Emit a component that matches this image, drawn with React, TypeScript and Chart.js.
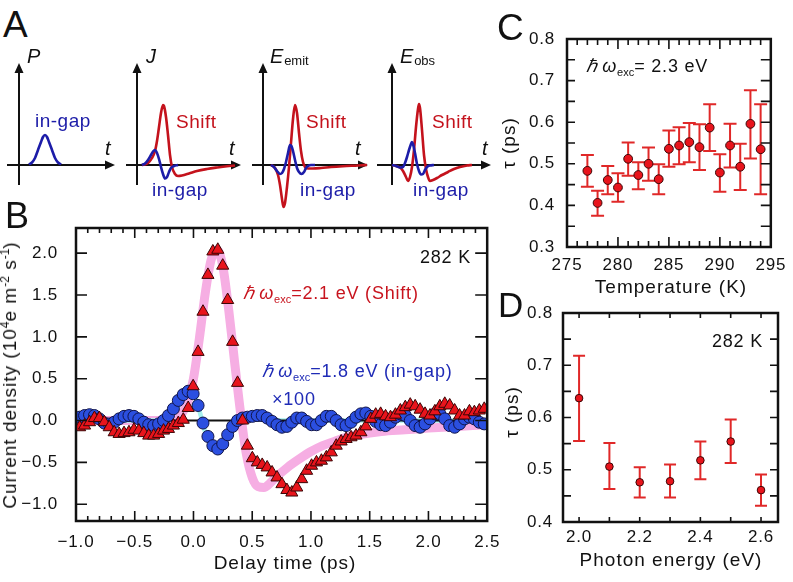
import React, { useEffect, useRef } from 'react';
import { Chart, registerables } from 'chart.js';

Chart.register(...registerables);
const FONT = "'Liberation Sans', Arial, Helvetica, sans-serif";
Chart.defaults.font.family = FONT;
Chart.defaults.color = '#111';

// ---------------- DATA ----------------
// Panel B: delay-time traces
const bTimes = [-0.969,-0.927,-0.885,-0.843,-0.801,-0.759,-0.717,-0.675,-0.633,-0.591,-0.549,-0.507,-0.465,-0.423,-0.381,-0.339,-0.297,-0.255,-0.213,-0.171,-0.129,-0.087,-0.045,-0.003,0.039,0.081,0.123,0.165,0.207,0.249,0.291,0.333,0.375,0.417,0.459,0.501,0.543,0.585,0.627,0.669,0.711,0.753,0.795,0.837,0.879,0.921,0.963,1.005,1.047,1.089,1.131,1.173,1.215,1.257,1.299,1.341,1.383,1.425,1.467,1.509,1.551,1.593,1.635,1.677,1.719,1.761,1.803,1.845,1.887,1.929,1.971,2.013,2.055,2.097,2.139,2.181,2.223,2.265,2.307,2.349,2.391,2.433,2.475];
const bShift = [-0.08,-0.06,-0.02,0.03,0.03,-0.02,-0.08,-0.14,-0.16,-0.15,-0.14,-0.11,-0.12,-0.15,-0.18,-0.18,-0.16,-0.12,-0.10,-0.06,-0.03,0.01,0.15,0.41,0.82,1.30,1.74,2.02,2.04,1.85,1.44,0.94,0.45,0.00,-0.30,-0.45,-0.50,-0.53,-0.56,-0.62,-0.68,-0.76,-0.83,-0.86,-0.80,-0.70,-0.60,-0.54,-0.50,-0.48,-0.44,-0.38,-0.30,-0.25,-0.22,-0.20,-0.18,-0.14,-0.07,0.02,0.07,0.08,0.05,0.04,0.07,0.12,0.16,0.19,0.17,0.13,0.08,0.06,0.11,0.17,0.20,0.18,0.12,0.06,0.06,0.11,0.10,0.12,0.14];
const bInGap = [0.04,0.06,0.07,0.06,0.02,-0.03,-0.04,-0.02,0.02,0.05,0.06,0.05,0.02,-0.02,-0.05,-0.06,-0.04,0.00,0.06,0.14,0.24,0.31,0.35,0.32,0.18,-0.03,-0.19,-0.30,-0.34,-0.28,-0.17,-0.07,0.00,0.03,0.04,0.05,0.06,0.06,0.03,-0.01,-0.05,-0.08,-0.07,-0.02,0.03,0.03,-0.01,-0.05,-0.05,0.00,0.05,0.05,0.00,-0.05,-0.06,-0.02,0.04,0.08,0.09,0.05,-0.01,-0.05,-0.06,-0.02,0.04,0.08,0.06,0.00,-0.06,-0.08,-0.04,0.02,0.08,0.08,0.02,-0.06,-0.08,-0.04,0.02,0.04,0.02,-0.02,-0.04];
const fitShiftT = [-1.0,-0.3,-0.2,-0.15,-0.1,-0.05,0.0,0.05,0.1,0.15,0.2,0.25,0.3,0.35,0.4,0.45,0.5,0.55,0.6,0.65,0.7,0.8,0.9,1.0,1.1,1.2,1.3,1.4,1.6,1.8,2.0,2.25,2.5];
const fitShiftV = [0,0,0,0.02,0.08,0.22,0.5,0.98,1.52,1.92,2.04,1.84,1.32,0.7,0.1,-0.4,-0.68,-0.79,-0.8,-0.75,-0.68,-0.56,-0.46,-0.37,-0.3,-0.25,-0.2,-0.17,-0.13,-0.11,-0.09,-0.07,-0.05];
const fitGapT = [-1.0,-0.3,-0.25,-0.2,-0.15,-0.1,-0.05,0.0,0.05,0.1,0.15,0.2,0.25,0.3,0.35,0.4,0.5,0.6,0.8,1.0,1.5,2.0,2.5];
const fitGapV = [0,0,0.01,0.04,0.12,0.24,0.33,0.32,0.12,-0.14,-0.3,-0.33,-0.24,-0.1,-0.01,0.02,0.02,0.01,0,0,0,0,0];
const zeroT = [-1.0, 2.5];
const zeroV = [0, 0];
const bXTicks = [-1.0,-0.5,0,0.5,1.0,1.5,2.0,2.5];
const bXLabels = ['\u22121.0','\u22120.5','0.0','0.5','1.0','1.5','2.0','2.5'];
const bXMinor = [-0.9,-0.8,-0.7,-0.6,-0.4,-0.3,-0.2,-0.1,0.1,0.2,0.3,0.4,0.6,0.7,0.8,0.9,1.1,1.2,1.3,1.4,1.6,1.7,1.8,1.9,2.1,2.2,2.3,2.4];
const bYTicks = [-1.0,-0.5,0,0.5,1.0,1.5,2.0];
const bYLabels = ['\u22121.0','\u22120.5','0.0','0.5','1.0','1.5','2.0'];

// Panel C: tau vs temperature
const cTemp = [277,278,279,280,281,282,283,284,285,286,287,288,289,290,291,292,293,294];
const cTau = [0.483,0.406,0.461,0.443,0.512,0.473,0.500,0.463,0.536,0.544,0.552,0.540,0.587,0.479,0.544,0.493,0.596,0.535];
const cLo = [0.445,0.375,0.427,0.409,0.471,0.439,0.459,0.427,0.493,0.499,0.504,0.485,0.531,0.433,0.491,0.437,0.513,0.427];
const cHi = [0.521,0.435,0.495,0.477,0.551,0.504,0.539,0.499,0.580,0.588,0.598,0.595,0.643,0.523,0.596,0.548,0.677,0.643];
const cXTicks = [275,280,285,290,295];
const cXLabels = ['275','280','285','290','295'];
const cXMinor = [276,277,278,279,281,282,283,284,286,287,288,289,291,292,293,294];
const cYTicks = [0.3,0.4,0.5,0.6,0.7,0.8];
const cYLabels = ['0.3','0.4','0.5','0.6','0.7','0.8'];
const cYMinor = [0.35,0.45,0.55,0.65,0.75];

// Panel D: tau vs photon energy
const dEnergy = [2.0,2.1,2.2,2.3,2.4,2.5,2.6];
const dTau = [0.637,0.506,0.476,0.478,0.518,0.554,0.461];
const dLo = [0.555,0.463,0.447,0.447,0.482,0.513,0.431];
const dHi = [0.718,0.551,0.505,0.510,0.554,0.596,0.491];
const dXTicks = [2.0,2.2,2.4,2.6];
const dXLabels = ['2.0','2.2','2.4','2.6'];
const dXMinor = [2.1,2.3,2.5];
const dYTicks = [0.4,0.5,0.6,0.7,0.8];
const dYLabels = ['0.4','0.5','0.6','0.7','0.8'];
const dYMinor = [0.45,0.55,0.65,0.75];

// Panel A: schematic curves (offsets in sketch units)
const aPT = [10,13,16,19,22,24,26,28,30,33,36,39,42];
const aPV = [0.5,2.5,7,15,23,28,30,28,23,15,7,2.5,0.5];
const aJShiftT = [5,9,12,15,18,20,22,24,26,27,29,31,33,35,38,41,45,52,60,70,80,90,98];
const aJShiftV = [0,1,3,7,14,24,38,52,60,59,48,30,10,-2,-9,-11,-10.5,-8.5,-6,-4,-2.5,-1.2,-0.5];
const aJGapT = [5,8,11,14,16,18,20,22,24,26,28,30,32,34,37,41];
const aJGapV = [0,1.5,5,10,13.5,15,12,6,-2,-9,-13.5,-12,-7,-3,-1,0];
const aEShiftT = [8,12,15,17,19,20.5,22,24,26,28,30,32,34,36,38,40,42,45,50,58,68,80,95,104];
const aEShiftV = [0,-3,-10,-20,-34,-42,-38,-22,-2,22,46,60,52,32,14,3,-2,-3.5,-3.5,-3,-2,-1.2,-0.5,0];
const aEGapT = [8,11,14,17,19,21,23,25,27,28.5,30,32,34,36,38.5,41,43,45,48,52];
const aEGapV = [0,-2,-6,-9,-8,-4,3,12,20,19,14,5,-3,-7,-9,-7,-3,-1,0,0];
const aOShiftT = [0,4,8,11,14,16,18,20,22,24,26,27,28,30,32,34,36,38,41,45,50,56,62,68,75,80];
const aOShiftV = [0,-1,-2.5,-6,-12,-16,-12,-2,15,38,56,61,57,35,10,-4,-12,-16,-15,-13,-10,-7,-4,-2,-0.5,0];
const aOGapT = [0,4,8,11,13,15,17,19,20,21,23,25,27,29,31,33,35,38,42];
const aOGapV = [0,-1,-2.5,-2,2,8,15,21,23,21,12,1,-6,-9.5,-9,-5,-2,-0.5,0];

// ---------------- PLUGINS ----------------
const spacingPlugin = {
  id: 'letterSpacing',
  beforeDraw(chart: any) { try { chart.ctx.letterSpacing = '0.8px'; } catch (e) {} },
};

function framePlugin(spec: any) {
  return {
    id: 'frameTicks',
    afterDraw(chart: any) {
      const { ctx, chartArea: a, scales } = chart;
      const xs = scales.x, ys = scales.y;
      ctx.save();
      ctx.strokeStyle = '#111';
      ctx.lineWidth = spec.tickW;
      ctx.beginPath();
      const xt = (vals: number[], len: number) => vals.forEach((v) => {
        const p = xs.getPixelForValue(v);
        ctx.moveTo(p, a.bottom); ctx.lineTo(p, a.bottom - len);
        ctx.moveTo(p, a.top); ctx.lineTo(p, a.top + len);
      });
      const yt = (vals: number[], len: number, lenR: number) => vals.forEach((v) => {
        const p = ys.getPixelForValue(v);
        ctx.moveTo(a.left, p); ctx.lineTo(a.left + len, p);
        ctx.moveTo(a.right, p); ctx.lineTo(a.right - lenR, p);
      });
      xt(spec.xMajor, spec.xMaj);
      xt(spec.xMinor, spec.xMin);
      yt(spec.yMajor, spec.yMaj, spec.yMajR);
      yt(spec.yMinor, spec.yMin, spec.yMinR);
      ctx.stroke();
      ctx.lineWidth = spec.frameW;
      ctx.strokeRect(a.left, a.top, a.right - a.left, a.bottom - a.top);
      ctx.restore();
    },
  };
}

function errorBarPlugin(xs: number[], lo: number[], hi: number[], cap: number) {
  return {
    id: 'errorBars',
    beforeDatasetsDraw(chart: any) {
      const { ctx } = chart;
      const sx = chart.scales.x, sy = chart.scales.y;
      ctx.save();
      ctx.strokeStyle = '#e02828';
      ctx.lineWidth = 2;
      ctx.beginPath();
      xs.forEach((x, i) => {
        const px = sx.getPixelForValue(x);
        const pl = sy.getPixelForValue(lo[i]);
        const ph = sy.getPixelForValue(hi[i]);
        ctx.moveTo(px, pl); ctx.lineTo(px, ph);
        ctx.moveTo(px - cap, pl); ctx.lineTo(px + cap, pl);
        ctx.moveTo(px - cap, ph); ctx.lineTo(px + cap, ph);
      });
      ctx.stroke();
      ctx.restore();
    },
  };
}

function arrowAxesPlugin(xmin: number, xmax: number, ybot: number, ytop: number) {
  return {
    id: 'arrowAxes',
    beforeDatasetsDraw(chart: any) {
      const { ctx } = chart;
      const sx = chart.scales.x, sy = chart.scales.y;
      const x0 = sx.getPixelForValue(0), y0 = sy.getPixelForValue(0);
      const xl = sx.getPixelForValue(xmin), xr = sx.getPixelForValue(xmax);
      const yb = sy.getPixelForValue(ybot), yt = sy.getPixelForValue(ytop);
      ctx.save();
      ctx.strokeStyle = '#111';
      ctx.fillStyle = '#111';
      ctx.lineWidth = 2;
      ctx.beginPath();
      ctx.moveTo(xl, y0); ctx.lineTo(xr - 6, y0);
      ctx.moveTo(x0, yb); ctx.lineTo(x0, yt + 6);
      ctx.stroke();
      ctx.beginPath();
      ctx.moveTo(xr, y0); ctx.lineTo(xr - 10, y0 - 4.5); ctx.lineTo(xr - 10, y0 + 4.5); ctx.closePath();
      ctx.moveTo(x0, yt); ctx.lineTo(x0 - 4.5, yt + 10); ctx.lineTo(x0 + 4.5, yt + 10); ctx.closePath();
      ctx.fill();
      ctx.restore();
    },
  };
}

const pts = (xs: number[], ys: number[]) => xs.map((x, i) => ({ x, y: ys[i] }));

function linearAxis(min: number, max: number, ticks: number[], labels: string[], size: number, pad: number, isY: boolean, fontSize: number) {
  return {
    type: 'linear',
    min, max,
    grid: { display: false, drawTicks: false },
    border: { display: false },
    afterBuildTicks: (axis: any) => { axis.ticks = ticks.map((v) => ({ value: v })); },
    afterFit: (axis: any) => { if (isY) axis.width = size; else axis.height = size; },
    ticks: {
      autoSkip: false, maxRotation: 0, minRotation: 0, padding: pad,
      color: '#111', font: { size: fontSize, family: FONT },
      callback: (_v: any, i: number) => labels[i],
    },
  };
}

// ---------------- COMPONENTS ----------------
function ChartBox({ left, top, width, height, make }: any) {
  const ref = useRef<HTMLCanvasElement>(null);
  useEffect(() => {
    const chart = new Chart(ref.current as HTMLCanvasElement, make());
    return () => chart.destroy();
  }, []);
  return <canvas ref={ref} width={width} height={height} style={{ position: 'absolute', left, top, width, height }} />;
}

const baseOpts = (padding: any) => ({
  responsive: false,
  maintainAspectRatio: false,
  animation: false,
  events: [],
  layout: { padding },
  plugins: { legend: { display: false }, tooltip: { enabled: false } },
});

function makeB() {
  return {
    type: 'scatter',
    data: {
      datasets: [
        { data: pts(bTimes, bShift), pointStyle: 'triangle', pointRadius: 7, backgroundColor: '#e8141c', borderColor: '#3a0505', borderWidth: 1, showLine: false, order: 0 },
        { data: pts(bTimes, bInGap), pointStyle: 'circle', pointRadius: 6, backgroundColor: '#2b4fe0', borderColor: '#10144a', borderWidth: 1, showLine: false, order: 1 },
        { data: pts(zeroT, zeroV), showLine: true, borderColor: '#111', borderWidth: 2, pointRadius: 0, order: 2 },
        { data: pts(fitGapT, fitGapV), showLine: true, borderColor: '#a6f0ee', borderWidth: 4.5, pointRadius: 0, cubicInterpolationMode: 'monotone', order: 3 },
        { data: pts(fitShiftT, fitShiftV), showLine: true, borderColor: '#f6aee3', borderWidth: 9, pointRadius: 0, cubicInterpolationMode: 'monotone', order: 4 },
      ],
    },
    options: {
      ...baseOpts({ left: 0, top: 38, right: 16, bottom: 0 }),
      scales: {
        x: linearAxis(-1.0, 2.5, bXTicks, bXLabels, 61, 11, false, 17),
        y: linearAxis(-1.2, 2.3, bYTicks, bYLabels, 76, 18, true, 17),
      },
    },
    plugins: [spacingPlugin, framePlugin({ xMajor: bXTicks, xMinor: bXMinor, yMajor: bYTicks, yMinor: [], xMaj: 10, xMin: 5, yMaj: 11, yMajR: 12, yMin: 0, yMinR: 0, tickW: 1.6, frameW: 2.5 })],
  };
}

function makeC() {
  return {
    type: 'scatter',
    data: { datasets: [{ data: pts(cTemp, cTau), pointRadius: 4.4, backgroundColor: '#e8141c', borderColor: '#3a0505', borderWidth: 1 }] },
    options: {
      ...baseOpts({ left: 0, top: 39, right: 18, bottom: 0 }),
      scales: {
        x: linearAxis(275, 295, cXTicks, cXLabels, 53, 8, false, 17),
        y: linearAxis(0.3, 0.8, cYTicks, cYLabels, 87, 12, true, 17),
      },
    },
    plugins: [spacingPlugin, errorBarPlugin(cTemp, cLo, cHi, 6.5), framePlugin({ xMajor: cXTicks, xMinor: cXMinor, yMajor: cYTicks, yMinor: cYMinor, xMaj: 10, xMin: 6, yMaj: 8, yMajR: 10, yMin: 8, yMinR: 10, tickW: 1.6, frameW: 2.5 })],
  };
}

function makeD() {
  return {
    type: 'scatter',
    data: { datasets: [{ data: pts(dEnergy, dTau), pointRadius: 3.8, backgroundColor: '#e8141c', borderColor: '#3a0505', borderWidth: 1 }] },
    options: {
      ...baseOpts({ left: 0, top: 23, right: 15, bottom: 0 }),
      scales: {
        x: linearAxis(1.947, 2.656, dXTicks, dXLabels, 60, 5, false, 17),
        y: linearAxis(0.4, 0.8, dYTicks, dYLabels, 83, 10, true, 17),
      },
    },
    plugins: [spacingPlugin, errorBarPlugin(dEnergy, dLo, dHi, 6), framePlugin({ xMajor: dXTicks, xMinor: dXMinor, yMajor: dYTicks, yMinor: dYMinor, xMaj: 5, xMin: 5, yMaj: 8, yMajR: 8, yMin: 8, yMinR: 8, tickW: 1.6, frameW: 2.5 })],
  };
}

const A_RED = '#c4121c';
const A_BLUE = '#1c1ca8';

function makeA(xmin: number, xmax: number, series: { t: number[]; v: number[]; c: string }[]) {
  return () => ({
    type: 'scatter',
    data: {
      datasets: series.map((s, i) => ({
        data: pts(s.t, s.v), showLine: true, borderColor: s.c, borderWidth: 2.6, pointRadius: 0,
        cubicInterpolationMode: 'monotone', clip: false, order: series.length - i,
      })),
    },
    options: {
      ...baseOpts(0),
      scales: { x: { type: 'linear', display: false, min: xmin, max: xmax }, y: { type: 'linear', display: false, min: -50, max: 102 } },
    },
    plugins: [arrowAxesPlugin(xmin, xmax, -20, 102)],
  });
}

function Txt({ x, y, size = 18, color = '#111', align = 'left', italic = false, ls = 0.8, children }: any) {
  const tx = align === 'center' ? '-50%' : align === 'right' ? '-100%' : '0';
  return (
    <div style={{ position: 'absolute', left: x, top: y - 0.8465 * size, fontSize: size, lineHeight: `${size}px`, color, fontStyle: italic ? 'italic' : 'normal', letterSpacing: ls, whiteSpace: 'nowrap', transform: `translateX(${tx})`, fontFamily: FONT }}>
      {children}
    </div>
  );
}

function VTxt({ cx, cy, size = 19, ls = 1, children }: any) {
  return (
    <div style={{ position: 'absolute', left: cx, top: cy, fontSize: size, lineHeight: `${size}px`, color: '#111', letterSpacing: ls, whiteSpace: 'nowrap', transform: 'translate(-50%,-50%) rotate(-90deg)', fontFamily: FONT }}>
      {children}
    </div>
  );
}

const Sub = ({ children, size = 12, dy = 4 }: any) => <span style={{ fontSize: size, position: 'relative', top: dy, fontStyle: 'normal', letterSpacing: 0 }}>{children}</span>;
const Sup = ({ children }: any) => <span style={{ fontSize: 12, position: 'relative', top: -7, letterSpacing: 0 }}>{children}</span>;
const HW = () => <span style={{ fontStyle: 'italic' }}>{'\u210F\u2009\u03C9'}</span>;

export default function App() {
  const aTop = 63, aH = 152;
  return (
    <div style={{ position: 'absolute', left: 0, top: 0, width: 793, height: 582, background: '#fff', overflow: 'hidden', fontFamily: FONT }}>
      <ChartBox left={19 - 12} top={aTop} width={108} height={aH} make={makeA(-12, 96, [{ t: aPT, v: aPV, c: A_BLUE }])} />
      <ChartBox left={137 - 11} top={aTop} width={115} height={aH} make={makeA(-11, 104, [{ t: aJShiftT, v: aJShiftV, c: A_RED }, { t: aJGapT, v: aJGapV, c: A_BLUE }])} />
      <ChartBox left={263 - 11} top={aTop} width={116} height={aH} make={makeA(-11, 105, [{ t: aEShiftT, v: aEShiftV, c: A_RED }, { t: aEGapT, v: aEGapV, c: A_BLUE }])} />
      <ChartBox left={392 - 15} top={aTop} width={114} height={aH} make={makeA(-15, 99, [{ t: aOShiftT, v: aOShiftV, c: A_RED }, { t: aOGapT, v: aOGapV, c: A_BLUE }])} />
      <ChartBox left={0} top={190} width={510} height={392} make={makeB} />
      <ChartBox left={480} top={0} width={313} height={300} make={makeC} />
      <ChartBox left={480} top={290} width={313} height={292} make={makeD} />

      {/* panel letters */}
      <Txt x={3} y={37} size={37} ls={0}>A</Txt>
      <Txt x={5} y={228} size={36} ls={0}>B</Txt>
      <Txt x={497} y={40} size={37} ls={0}>C</Txt>
      <Txt x={498} y={317} size={35} ls={0}>D</Txt>

      {/* panel A labels */}
      <Txt x={27} y={63} size={20} italic>P</Txt>
      <Txt x={146} y={63} size={20} italic>J</Txt>
      <Txt x={270} y={63} size={20} italic>E<Sub size={13} dy={2}>emit</Sub></Txt>
      <Txt x={400} y={63} size={20} italic>E<Sub size={13} dy={2}>obs</Sub></Txt>
      <Txt x={105} y={155} size={20} italic>t</Txt>
      <Txt x={229} y={155} size={20} italic>t</Txt>
      <Txt x={355} y={155} size={20} italic>t</Txt>
      <Txt x={482} y={155} size={20} italic>t</Txt>
      <Txt x={35} y={127} size={19} color={A_BLUE} ls={0.5}>in-gap</Txt>
      <Txt x={176} y={128} size={19} color={A_RED} ls={0.5}>Shift</Txt>
      <Txt x={152} y={196} size={19} color={A_BLUE} ls={0.5}>in-gap</Txt>
      <Txt x={306} y={128} size={19} color={A_RED} ls={0.5}>Shift</Txt>
      <Txt x={300} y={196} size={19} color={A_BLUE} ls={0.5}>in-gap</Txt>
      <Txt x={432} y={128} size={19} color={A_RED} ls={0.5}>Shift</Txt>
      <Txt x={413} y={196} size={19} color={A_BLUE} ls={0.5}>in-gap</Txt>

      {/* panel B texts */}
      <Txt x={420} y={263} size={18}>282 K</Txt>
      <Txt x={243} y={299} size={18} color="#c8141e"><HW /><Sub size={11}>exc</Sub>=2.1 eV (Shift)</Txt>
      <Txt x={262} y={377} size={18} color="#1f2bb6"><HW /><Sub size={11}>exc</Sub>=1.8 eV (in-gap)</Txt>
      <Txt x={272} y={405} size={18} color="#1f2bb6">{'\u00D7100'}</Txt>
      <Txt x={285} y={569} size={19} align="center" ls={1}>Delay time (ps)</Txt>
      <VTxt cx={11} cy={375}>Current density (10<Sup>4</Sup>e m<Sup>-2</Sup> s<Sup>-1</Sup>)</VTxt>

      {/* panel C texts */}
      <Txt x={586} y={72} size={18}><HW /><Sub size={11}>exc</Sub>= 2.3 eV</Txt>
      <Txt x={671} y={293} size={19} align="center" ls={1}>Temperature (K)</Txt>
      <VTxt cx={508} cy={143}>{'\u03C4 (ps)'}</VTxt>

      {/* panel D texts */}
      <Txt x={712} y={347} size={18}>282 K</Txt>
      <Txt x={671} y={566} size={19} align="center" ls={1}>Photon energy (eV)</Txt>
      <VTxt cx={511} cy={412}>{'\u03C4 (ps)'}</VTxt>
    </div>
  );
}
